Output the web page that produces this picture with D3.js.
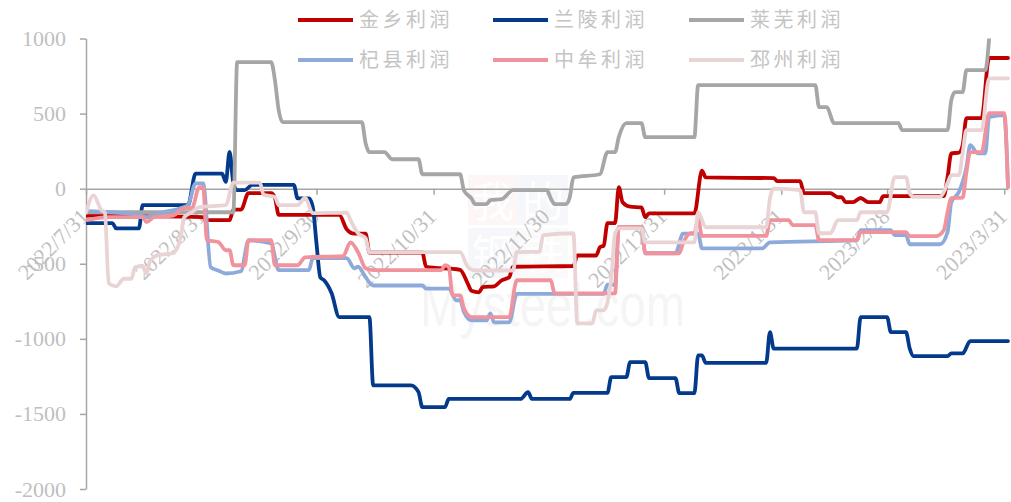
<!DOCTYPE html>
<html>
<head>
<meta charset="utf-8">
<script src="https://cdn.jsdelivr.net/npm/d3@7"></script>
<style>
  body { margin: 0; background: #fff; }
  svg { display: block; }
</style>
</head>
<body>
<script>
// values, [date, profit]
let jinxiang = [["2022-07-31",-180],["2022-08-31",-190],["2022-09-01",-210],["2022-09-07",-210],["2022-09-08",-140],["2022-09-10",-140],["2022-09-12",-30],["2022-09-18",-30],["2022-09-19",-60],["2022-09-20",-175],["2022-10-06",-175],["2022-10-08",-270],["2022-10-10",-300],["2022-10-13",-300],["2022-10-14",-425],["2022-10-28",-425],["2022-10-29",-520],["2022-11-07",-540],["2022-11-09",-630],["2022-11-10",-680],["2022-11-12",-690],["2022-11-13",-655],["2022-11-16",-650],["2022-11-18",-610],["2022-11-20",-590],["2022-11-21",-520],["2022-12-07",-515],["2022-12-08",-445],["2022-12-13",-445],["2022-12-14",-390],["2022-12-15",-380],["2022-12-16",-230],["2022-12-18",-230],["2022-12-19",10],["2022-12-20",-90],["2022-12-22",-120],["2022-12-25",-125],["2022-12-26",-190],["2022-12-27",-165],["2023-01-08",-165],["2023-01-10",120],["2023-01-11",75],["2023-01-29",70],["2023-01-30",50],["2023-02-05",50],["2023-02-06",-30],["2023-02-13",-30],["2023-02-15",-57],["2023-02-16",-57],["2023-02-17",-90],["2023-02-19",-90],["2023-02-21",-62],["2023-02-23",-90],["2023-02-26",-90],["2023-02-27",-50],["2023-03-15",-50],["2023-03-16",75],["2023-03-17",235],["2023-03-19",240],["2023-03-20",290],["2023-03-21",470],["2023-03-25",470],["2023-03-27",870],["2023-04-01",870]]

let lanling = [["2022-07-31",-230],["2022-08-07",-230],["2022-08-08",-265],["2022-08-14",-265],["2022-08-15",-110],["2022-08-27",-110],["2022-08-29",100],["2022-09-05",100],["2022-09-06",45],["2022-09-07",245],["2022-09-08",35],["2022-09-09",-10],["2022-09-11",-10],["2022-09-13",25],["2022-09-24",25],["2022-09-25",-65],["2022-09-28",-65],["2022-09-29",-120],["2022-09-30",-365],["2022-10-01",-590],["2022-10-02",-610],["2022-10-04",-697],["2022-10-06",-855],["2022-10-14",-855],["2022-10-15",-1310],["2022-10-25",-1310],["2022-10-27",-1355],["2022-10-28",-1455],["2022-11-03",-1455],["2022-11-04",-1400],["2022-11-23",-1400],["2022-11-25",-1355],["2022-11-26",-1400],["2022-12-06",-1400],["2022-12-07",-1360],["2022-12-16",-1360],["2022-12-17",-1255],["2022-12-21",-1255],["2022-12-22",-1155],["2022-12-26",-1155],["2022-12-27",-1262],["2023-01-03",-1262],["2023-01-04",-1362],["2023-01-08",-1362],["2023-01-09",-1110],["2023-01-10",-1110],["2023-01-11",-1160],["2023-01-27",-1160],["2023-01-28",-955],["2023-01-29",-1065],["2023-02-20",-1065],["2023-02-21",-855],["2023-02-28",-855],["2023-03-01",-955],["2023-03-05",-955],["2023-03-06",-1065],["2023-03-07",-1115],["2023-03-16",-1115],["2023-03-17",-1097],["2023-03-20",-1097],["2023-03-22",-1015],["2023-04-01",-1015]]

let laiwu = [["2022-07-31",-157],["2022-09-08",-157],["2022-09-09",843],["2022-09-18",843],["2022-09-19",722],["2022-09-20",522],["2022-09-21",443],["2022-10-12",443],["2022-10-13",303],["2022-10-14",243],["2022-10-18",243],["2022-10-20",196],["2022-10-27",196],["2022-10-28",96],["2022-11-07",96],["2022-11-08",-10],["2022-11-10",-65],["2022-11-11",-103],["2022-11-14",-103],["2022-11-15",-77],["2022-11-18",-70],["2022-11-21",-10],["2022-11-30",-10],["2022-12-01",-65],["2022-12-02",-103],["2022-12-05",-103],["2022-12-06",-60],["2022-12-07",75],["2022-12-14",96],["2022-12-16",243],["2022-12-18",243],["2022-12-19",343],["2022-12-21",436],["2022-12-25",436],["2022-12-26",343],["2023-01-08",343],["2023-01-09",690],["2023-02-09",690],["2023-02-10",543],["2023-02-12",543],["2023-02-14",436],["2023-03-03",436],["2023-03-04",390],["2023-03-16",390],["2023-03-17",590],["2023-03-18",643],["2023-03-20",643],["2023-03-21",790],["2023-03-26",790],["2023-03-27",1000]]

let qixian = [["2022-07-31",-150],["2022-08-14",-175],["2022-08-16",-190],["2022-08-20",-160],["2022-08-25",-130],["2022-08-27",-110],["2022-08-29",35],["2022-08-31",35],["2022-09-02",-523],["2022-09-04",-545],["2022-09-06",-565],["2022-09-10",-550],["2022-09-12",-345],["2022-09-18",-365],["2022-09-20",-543],["2022-09-28",-543],["2022-09-29",-463],["2022-10-08",-463],["2022-10-10",-530],["2022-10-11",-520],["2022-10-13",-590],["2022-10-15",-645],["2022-10-28",-645],["2022-10-29",-665],["2022-11-04",-665],["2022-11-06",-743],["2022-11-07",-743],["2022-11-08",-820],["2022-11-10",-877],["2022-11-14",-877],["2022-11-15",-830],["2022-11-16",-890],["2022-11-20",-890],["2022-11-22",-700],["2022-12-15",-700],["2022-12-16",-640],["2022-12-18",-640],["2022-12-19",-255],["2022-12-25",-255],["2022-12-26",-430],["2023-01-03",-430],["2023-01-05",-300],["2023-01-09",-300],["2023-01-10",-397],["2023-01-26",-397],["2023-01-28",-357],["2023-02-20",-345],["2023-02-21",-277],["2023-03-01",-277],["2023-03-02",-310],["2023-03-05",-310],["2023-03-06",-370],["2023-03-14",-370],["2023-03-16",-290],["2023-03-17",-90],["2023-03-19",-23],["2023-03-21",143],["2023-03-22",290],["2023-03-24",236],["2023-03-26",236],["2023-03-27",477],["2023-03-31",490],["2023-04-01",10]]

let zhongmu = [["2022-07-31",-210],["2022-08-06",-190],["2022-08-15",-190],["2022-08-16",-223],["2022-08-18",-190],["2022-08-23",-180],["2022-08-26",-130],["2022-08-28",-130],["2022-08-30",10],["2022-08-31",10],["2022-09-01",-343],["2022-09-04",-355],["2022-09-06",-410],["2022-09-07",-410],["2022-09-08",-510],["2022-09-11",-510],["2022-09-12",-343],["2022-09-18",-343],["2022-09-19",-510],["2022-09-25",-510],["2022-09-27",-457],["2022-10-07",-450],["2022-10-09",-357],["2022-10-11",-423],["2022-10-13",-530],["2022-10-15",-543],["2022-11-02",-543],["2022-11-03",-510],["2022-11-04",-520],["2022-11-05",-710],["2022-11-07",-710],["2022-11-08",-797],["2022-11-10",-855],["2022-11-20",-855],["2022-11-22",-610],["2022-12-01",-610],["2022-12-02",-697],["2022-12-18",-697],["2022-12-19",-255],["2022-12-25",-255],["2022-12-26",-430],["2023-01-04",-430],["2023-01-05",-363],["2023-01-07",-297],["2023-01-08",-297],["2023-01-09",-200],["2023-01-10",-315],["2023-01-27",-315],["2023-01-28",-210],["2023-02-02",-210],["2023-02-03",-243],["2023-02-09",-243],["2023-02-10",-343],["2023-02-20",-343],["2023-02-21",-290],["2023-03-05",-290],["2023-03-06",-316],["2023-03-13",-316],["2023-03-15",-277],["2023-03-16",-157],["2023-03-17",-63],["2023-03-20",-60],["2023-03-21",110],["2023-03-22",243],["2023-03-25",243],["2023-03-27",503],["2023-03-31",503],["2023-04-01",10]]

let pizhou = [["2022-07-31",-160],["2022-08-02",-45],["2022-08-04",-140],["2022-08-05",-160],["2022-08-06",-630],["2022-08-08",-650],["2022-08-10",-600],["2022-08-12",-600],["2022-08-13",-523],["2022-08-15",-515],["2022-08-16",-565],["2022-08-17",-480],["2022-08-19",-443],["2022-08-23",-430],["2022-08-25",-330],["2022-08-26",-190],["2022-08-28",-157],["2022-08-30",-123],["2022-09-06",-110],["2022-09-08",40],["2022-09-15",40],["2022-09-16",-40],["2022-09-19",-55],["2022-09-20",-110],["2022-09-25",-110],["2022-09-27",-60],["2022-09-29",-163],["2022-10-08",-160],["2022-10-09",-210],["2022-10-11",-297],["2022-10-13",-330],["2022-10-14",-423],["2022-11-07",-423],["2022-11-09",-520],["2022-11-11",-545],["2022-11-21",-545],["2022-11-22",-423],["2022-11-28",-420],["2022-11-29",-310],["2022-12-07",-297],["2022-12-08",-897],["2022-12-12",-897],["2022-12-13",-810],["2022-12-15",-810],["2022-12-17",-600],["2022-12-18",-300],["2022-12-19",-265],["2022-12-25",-265],["2022-12-26",-357],["2023-01-08",-357],["2023-01-09",-157],["2023-01-11",-257],["2023-01-27",-257],["2023-01-28",-63],["2023-01-29",0],["2023-02-05",-10],["2023-02-06",-157],["2023-02-09",-157],["2023-02-10",-297],["2023-02-13",-297],["2023-02-15",-210],["2023-02-20",-210],["2023-02-21",-157],["2023-02-28",-157],["2023-03-02",77],["2023-03-05",77],["2023-03-06",-30],["2023-03-07",-55],["2023-03-14",-55],["2023-03-15",-23],["2023-03-16",37],["2023-03-17",90],["2023-03-19",90],["2023-03-20",236],["2023-03-21",390],["2023-03-25",390],["2023-03-27",735],["2023-04-01",735]]

let names = ['金乡利润', '兰陵利润', '莱芜利润', '杞县利润', '中牟利润', '邳州利润']
let colors = ['#c00000', '#043a8b', '#a6a6a6', '#8eaadb', '#f0939d', '#ead3d5']
let seriesData = [jinxiang, lanling, laiwu, qixian, zhongmu, pizhou]

let yTicks = [1000, 500, 0, -500, -1000, -1500, -2000]
let xTicks = ['2022-07-31', '2022-08-31', '2022-09-30', '2022-10-31', '2022-11-30', '2022-12-31', '2023-01-31', '2023-02-28', '2023-03-31']
let xTickLabels = ['2022/7/31', '2022/8/31', '2022/9/30', '2022/10/31', '2022/11/30', '2022/12/31', '2023/1/31', '2023/2/28', '2023/3/31']

let width = 1011
let height = 502
let parse = d3.timeParse('%Y-%m-%d')

let x = d3.scaleTime()
    .domain([parse('2022-07-31'), parse('2023-04-01')])
    .range([86, 1008])

let y = d3.scaleLinear()
    .domain([-2000, 1000])
    .range([489, 38.5])

let svg = d3.select('body')
    .append('svg')
    .attr('width', width)
    .attr('height', height)

//faint watermark
let marks = [[468, 175, '#fdf6f6', '我'], [518, 175, '#f5f7fb', '的'], [468, 228, '#f5f7fb', '钢'], [518, 228, '#fafafa', '铁']]
let wm = svg.append('g').attr('class', 'watermark')
wm.selectAll('rect')
    .data(marks)
    .enter()
    .append('rect')
    .attr('x', d => d[0]).attr('y', d => d[1])
    .attr('width', 50).attr('height', 50)
    .attr('fill', d => d[2])
wm.selectAll('text.wc')
    .data(marks)
    .enter()
    .append('text')
    .attr('class', 'wc')
    .attr('x', d => d[0] + 25).attr('y', d => d[1] + 42)
    .attr('text-anchor', 'middle')
    .style('font-family', '"Noto Sans CJK SC"')
    .style('font-size', '42px')
    .attr('fill', '#ffffff')
    .text(d => d[3])
wm.append('text')
    .attr('x', 420).attr('y', 326)
    .attr('textLength', 265)
    .attr('lengthAdjust', 'spacingAndGlyphs')
    .style('font-family', 'Arial, "Liberation Sans"')
    .style('font-size', '62px')
    .attr('fill', '#f5f5f5')
    .text('Mysteel.com')

//y axis
let yAxis = svg.append('g')
    .attr('transform', 'translate(86,0)')
    .call(d3.axisLeft(y).tickValues(yTicks).tickSize(6).tickSizeOuter(0).tickPadding(14).tickFormat(d => String(d)))
yAxis.select('.domain').attr('stroke', '#a6a6a6').attr('stroke-width', 1.5)
yAxis.selectAll('.tick line').attr('stroke', '#a6a6a6').attr('stroke-width', 1.5)
yAxis.selectAll('.tick text')
    .attr('fill', '#bfbfbf')
    .style('font-family', '"Liberation Serif", "Times New Roman", serif')
    .style('font-size', '22px')

//x axis on zero line
let xAxis = svg.append('g')
    .attr('transform', 'translate(0,' + y(0) + ')')
    .call(d3.axisBottom(x).tickValues(xTicks.map(parse)).tickSize(6).tickSizeOuter(0).tickFormat(''))
xAxis.select('.domain').attr('stroke', '#a6a6a6').attr('stroke-width', 1.5)
xAxis.selectAll('.tick line').attr('stroke', '#a6a6a6').attr('stroke-width', 1.5)

//rotated date labels
svg.append('g')
    .selectAll('text')
    .data(xTicks)
    .enter()
    .append('text')
    .attr('transform', d => 'translate(' + (x(parse(d)) + 4) + ',218) rotate(-45)')
    .attr('text-anchor', 'end')
    .attr('fill', '#bfbfbf')
    .style('font-family', '"Liberation Serif", "Times New Roman", serif')
    .style('font-size', '22px')
    .text((d, i) => xTickLabels[i])

//lines
svg.append('clipPath').attr('id', 'plot')
    .append('rect').attr('x', 86).attr('y', 38.5).attr('width', 925).attr('height', 451)

let line = d3.line()
    .x(d => x(parse(d[0])))
    .y(d => y(d[1]))
    .curve(d3.curveMonotoneX)

svg.append('g')
    .attr('clip-path', 'url(#plot)')
    .selectAll('path')
    .data(seriesData)
    .enter()
    .append('path')
    .attr('d', line)
    .attr('fill', 'none')
    .attr('stroke', (d, i) => colors[i])
    .attr('stroke-width', 3.8)
    .attr('stroke-linejoin', 'round')
    .attr('stroke-linecap', 'round')

//legend, two rows of three
let legend = svg.append('g')
    .selectAll('g')
    .data(names)
    .enter()
    .append('g')
    .attr('transform', (d, i) => 'translate(' + [298, 493, 689][i % 3] + ',' + (i < 3 ? 20 : 60) + ')')

legend.append('line')
    .attr('x1', 0).attr('x2', 55)
    .attr('stroke', (d, i) => colors[i])
    .attr('stroke-width', 4)

legend.append('text')
    .attr('x', 61)
    .attr('dy', '0.35em')
    .attr('fill', '#c4c4c4')
    .style('font-family', '"Noto Sans CJK SC"')
    .style('font-size', '20px')
    .style('letter-spacing', '3.5px')
    .text(d => d)
</script>
</body>
</html>
